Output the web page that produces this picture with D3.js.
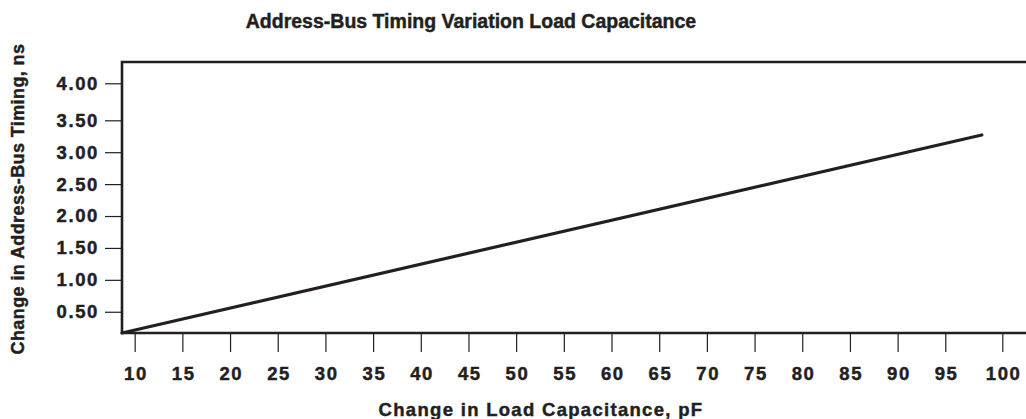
<!DOCTYPE html>
<html>
<head>
<meta charset="utf-8">
<script src="https://cdn.jsdelivr.net/npm/d3@7"></script>
<style>
  body { margin: 0; background: #fff; }
  svg { display: block; font-family: "Liberation Sans", Arial, Helvetica, sans-serif; }
  svg text { stroke: #231f20; stroke-width: 0.45px; }
</style>
</head>
<body>
<div id="chart"></div>
<script>
// ticks shown on the axes
const xTicks = [10, 15, 20, 25, 30, 35, 40, 45, 50, 55, 60, 65, 70, 75, 80, 85, 90, 95, 100];
const yTicks = [0.5, 1.0, 1.5, 2.0, 2.5, 3.0, 3.5, 4.0];
// change in load capacitance (pF) vs change in timing (ns)
const loadPF = [8.67, 98.2];
const timingNS = [0.167, 3.27];

const width = 1026, height = 419;
const margin = {left: 122, top: 62, bottom: 333};
const ink = "#231f20";

const svg = d3.select("#chart")
    .append("svg")
    .attr("width", width)
    .attr("height", height);

// the printed axes are not quite even, so the scales are piecewise
const xScale = d3.scaleLinear()
    .domain([8.67, 95, 100])
    .range([margin.left, 945.3, 1002.3]);
const yScale = d3.scaleLinear()
    .domain([0.167, 3.5, 4.0])
    .range([margin.bottom, 120.3, 83.3]);

// title
svg.append("text")
    .attr("x", 471)
    .attr("y", 28)
    .attr("text-anchor", "middle")
    .style("font-size", "19.5px")
    .style("font-weight", "bold")
    .attr("fill", ink)
    .text("Address-Bus Timing Variation Load Capacitance");

// x axis
const xAxis = d3.axisBottom(xScale)
    .tickValues(xTicks)
    .tickFormat(d3.format("d"))
    .tickSizeInner(19)
    .tickSizeOuter(0)
    .tickPadding(15);
const xg = svg.append("g")
    .attr("class", "x-axis")
    .attr("transform", "translate(0," + margin.bottom + ")")
    .call(xAxis);

// y axis
const yAxis = d3.axisLeft(yScale)
    .tickValues(yTicks)
    .tickFormat(d3.format(".2f"))
    .tickSizeInner(17)
    .tickSizeOuter(0)
    .tickPadding(6);
const yg = svg.append("g")
    .attr("class", "y-axis")
    .attr("transform", "translate(" + margin.left + ",0)")
    .call(yAxis);

[xg, yg].forEach(g => {
    g.select(".domain").remove();
    g.selectAll(".tick line").attr("stroke", ink).attr("stroke-width", 1.2);
    g.selectAll(".tick text")
        .attr("fill", ink)
        .style("font-size", "18.5px")
        .style("font-weight", "bold")
        .style("letter-spacing", "1.6px")
        .style("font-family", "'Liberation Sans', Arial, sans-serif");
});
xg.selectAll(".tick text").attr("dx", "0.8px");

// frame: top, left and bottom lines
const frame = svg.append("g").attr("stroke", ink).attr("stroke-width", 2.6).attr("fill", "none");
frame.append("path")
    .attr("d", "M" + width + "," + margin.top + "H" + margin.left + "V" + margin.bottom + "H" + width);

// data line
const line = d3.line()
    .x((d, i) => xScale(loadPF[i]))
    .y(d => yScale(d));
svg.append("path")
    .datum(timingNS)
    .attr("fill", "none")
    .attr("stroke", ink)
    .attr("stroke-width", 3.2)
    .attr("stroke-linecap", "round")
    .attr("d", line);

// axis titles
svg.append("text")
    .attr("x", 541)
    .attr("y", 416)
    .attr("text-anchor", "middle")
    .style("font-size", "18.5px")
    .style("font-weight", "bold")
    .style("letter-spacing", "1.3px")
    .attr("fill", ink)
    .text("Change in Load Capacitance, pF");

svg.append("text")
    .attr("transform", "translate(24,199) rotate(-90)")
    .attr("text-anchor", "middle")
    .style("font-size", "18px")
    .style("font-weight", "bold")
    .style("letter-spacing", "0.4px")
    .attr("fill", ink)
    .text("Change in Address-Bus Timing, ns");
</script>
</body>
</html>
